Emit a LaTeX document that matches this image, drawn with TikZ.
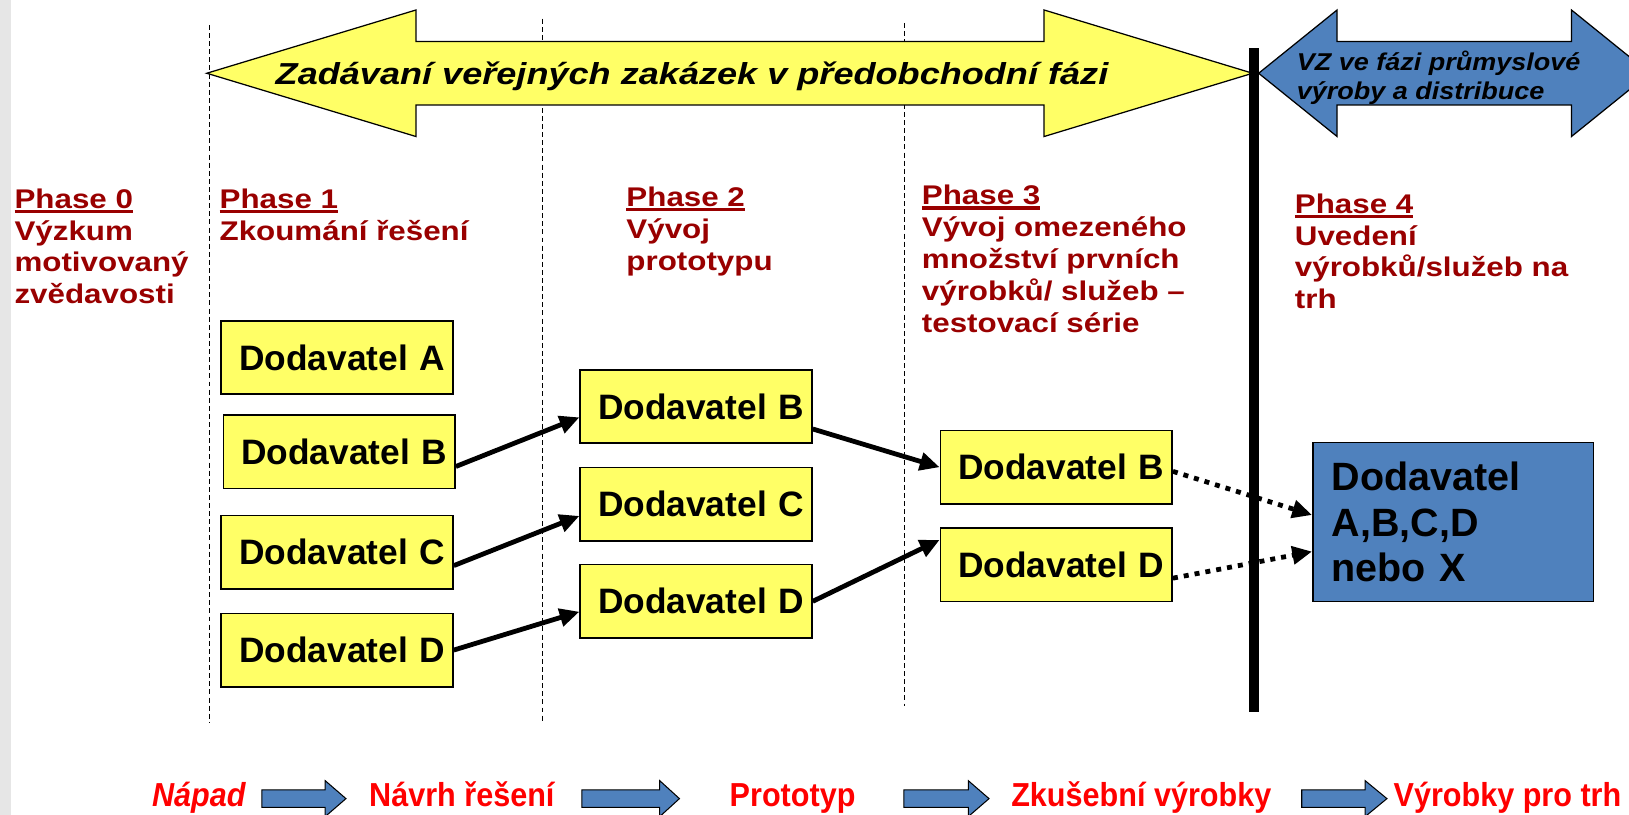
\documentclass[tikz,border=0pt]{standalone}
\usepackage{fontspec}
\setmainfont{Liberation Sans}
\newfontfamily\phasefont{Liberation Sans}[FakeStretch=1.16]
\newfontfamily\bannerfont{Liberation Sans}[FakeStretch=1.19]
\newfontfamily\vzfont{Liberation Sans}[FakeStretch=1.11]
\newfontfamily\flowfont{Liberation Sans}[FakeStretch=0.92]
\usetikzlibrary{arrows.meta}
\definecolor{phasered}{HTML}{990000}
\definecolor{boxyellow}{HTML}{FFFF66}
\definecolor{boxblue}{HTML}{4F81BD}
\definecolor{stripgray}{HTML}{E6E6E6}
\newsavebox\phasebox
\newcommand\phaseul[1]{\sbox\phasebox{#1}\rlap{\rule[-2.2pt]{\wd\phasebox}{1.6pt}}\usebox\phasebox}

\begin{document}
\begin{tikzpicture}[x=0.5pt,y=-0.5pt,
			dodbox/.style={draw=black, line width=0.8pt, fill=boxyellow, minimum width=111.5pt, minimum height=35.3pt, text width=104pt, align=right, inner xsep=3.5pt, inner ysep=0pt, font=\bfseries\fontsize{17}{20}\selectfont},
			vzbox/.style={draw=black, line width=0.8pt, fill=boxblue, minimum width=134.75pt, minimum height=76.5pt, text width=117pt, align=left, inner xsep=9pt, font=\bfseries\fontsize{19}{22}\selectfont},
			phaselabel/.style={anchor=base west, inner sep=0pt, align=left, text=phasered, font=\phasefont\bfseries\fontsize{13}{15.3}\selectfont},
			flowtext/.style={anchor=base west, inner sep=0pt, text=red, font=\flowfont\bfseries\fontsize{16}{19}\selectfont},
			sepline/.style={line width=0.5pt, dash pattern=on 2.4pt off 1.5pt},
			bigarrow/.style={draw=black, line width=0.6pt},
			flowarrow/.style={draw=black, line width=0.5pt, fill=boxblue},
			conn/.style={line width=2.3pt, -{Triangle[length=9.5pt,width=8.5pt]}},
			dotconn/.style={conn, dash pattern=on 2.4pt off 2.9pt}
		]
		\useasboundingbox (0,0) rectangle (1568,784);
		\fill[white] (0,0) rectangle (1568,784);
		\fill[stripgray] (0,0) rectangle (11,784);

		\draw[sepline] (201.5,24) -- (201.5,695);
		\draw[sepline] (522,18) -- (522,695);
		\draw[sepline] (871,22) -- (871,680);

		\filldraw[bigarrow, fill=boxyellow] (199,70.5) -- (400.4,9.6) -- (400.4,40) -- (1005,40) -- (1005,9.6) -- (1205.7,70.5) -- (1005,131.4) -- (1005,101) -- (400.4,101) -- (400.4,131.4) -- cycle;
		\filldraw[bigarrow, fill=boxblue] (1211.5,70.5) -- (1287,9.6) -- (1287,40) -- (1512.6,40) -- (1512.6,9.6) -- (1588,70.5) -- (1512.6,131.4) -- (1512.6,101) -- (1287,101) -- (1287,131.4) -- cycle;
		\draw[line width=4.5pt] (1207,46.5) -- (1207,685);

		\node[anchor=base west, inner sep=0pt, font=\bannerfont\bfseries\itshape\fontsize{14.6}{17}\selectfont] (banner) at (265,81.8) {Zadávaní veřejných zakázek v předobchodní fázi};
		\node[anchor=base west, inner sep=0pt, align=left, font=\vzfont\bfseries\itshape\fontsize{11.7}{14.1}\selectfont] (vzlabel) at (1248,96.2) {VZ ve fázi průmyslové\\výroby a distribuce};

		\node[phaselabel] (p0) at (13.6,292.3) {\phaseul{Phase 0}\\Výzkum\\motivovaný\\zvědavosti};
		\node[phaselabel] (p1) at (211,231.1) {\phaseul{Phase 1}\\Zkoumání řešení};
		\node[phaselabel] (p2) at (602.6,260.2) {\phaseul{Phase 2}\\Vývoj\\prototypu};
		\node[phaselabel] (p3) at (887,319.7) {\phaseul{Phase 3}\\Vývoj omezeného\\množství prvních\\výrobků/ služeb –\\testovací série};
		\node[phaselabel] (p4) at (1246,297.2) {\phaseul{Phase 4}\\Uvedení\\výrobků/služeb na\\trh};

		\node[dodbox] (c1a) at (324.5,344) {Dodavatel A};
		\node[dodbox] (c1b) at (326.5,435) {Dodavatel B};
		\node[dodbox] (c1c) at (324.5,531.6) {Dodavatel C};
		\node[dodbox] (c1d) at (324.5,625.7) {Dodavatel D};

		\node[dodbox] (c2b) at (670,391.3) {Dodavatel B};
		\node[dodbox] (c2c) at (670,485.2) {Dodavatel C};
		\node[dodbox] (c2d) at (670,578.8) {Dodavatel D};

		\node[dodbox] (c3b) at (1016.7,449.7) {Dodavatel B};
		\node[dodbox] (c3d) at (1016.7,543.5) {Dodavatel D};

		\node[vzbox] (vzbox) at (1398.7,502.5) {Dodavatel\\A,B,C,D\\nebo X};

		\draw[conn] ([yshift=-7pt]c1b.east) -- ([yshift=-5.2pt]c2b.west);
		\draw[conn] ([yshift=-6.4pt]c1c.east) -- ([yshift=-5.7pt]c2c.west);
		\draw[conn] (c1d.east) -- ([yshift=-5pt]c2d.west);
		\draw[conn] ([yshift=-10.8pt]c2b.east) -- (c3b.west);
		\draw[conn] (c2d.east) -- ([yshift=11.9pt]c3d.west);
		\draw[dotconn] ([yshift=-2pt]c3b.east) -- ([yshift=3.4pt]vzbox.west);
		\draw[dotconn] ([yshift=-6.5pt]c3d.east) -- ([yshift=-14.2pt]vzbox.west);

		\node[flowtext, font=\flowfont\bfseries\itshape\fontsize{16}{19}\selectfont] (fnapad) at (146,776) {Nápad};
		\node[flowtext] (fnavrh) at (355,776) {Návrh řešení};
		\node[flowtext] (fproto) at (702,776) {Prototyp};
		\node[flowtext] (fzkus) at (973,776) {Zkušební výrobky};
		\node[flowtext] (fvyrob) at (1341,776) {Výrobky pro trh};

		\foreach \xa/\xb/\xc in {252/313/333, 560/635/654, 870/932/952, 1253/1314/1335}
			\filldraw[flowarrow] (\xa,760.2) -- (\xb,760.2) -- (\xb,751.4) -- (\xc,768.7) -- (\xb,786) -- (\xb,777.2) -- (\xa,777.2) -- cycle;

	\end{tikzpicture}
\end{document}
